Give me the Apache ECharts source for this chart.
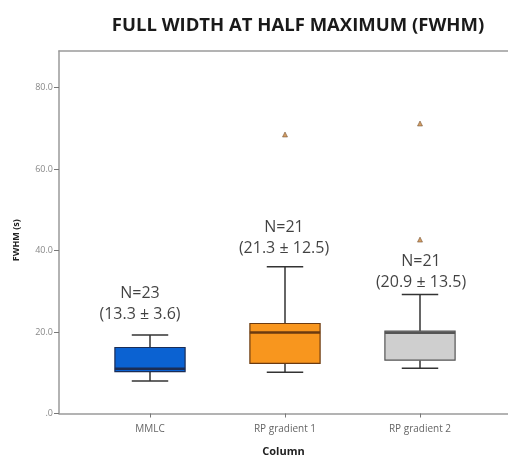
<!DOCTYPE html>
<html>
<head>
<meta charset="utf-8">
<script src="https://cdn.jsdelivr.net/npm/echarts@6/dist/echarts.min.js"></script>
<style>html,body{margin:0;padding:0;background:#fff}#c{width:508px;height:459px}</style>
</head>
<body>
<div id="c"></div>
<script>
// ---- data ----
const categories = ['MMLC', 'RP gradient 1', 'RP gradient 2'];
// [whiskerLow, Q1, median, Q3, whiskerHigh]
const boxMMLC = [8.0, 10.3, 11.0, 16.2, 19.3];
const boxRP1 = [10.1, 12.3, 19.9, 22.1, 36.0];
const boxRP2 = [11.1, 13.1, 19.8, 20.2, 29.2];
const outliersRP1 = [68.5];
const outliersRP2 = [71.2, 42.7];
const counts = [23, 21, 21];
const means = [13.3, 21.3, 20.9];
const sds = [3.6, 12.5, 13.5];
const yTicks = [0, 20, 40, 60, 80];

const boxes = [boxMMLC, boxRP1, boxRP2];
const outliers = [[], outliersRP1, outliersRP2];

// styles
const fills = ['#0b62d2', '#f8961e', '#cfcfcf'];
const edges = ['#1b2d55', '#6b3a10', '#555555'];
const labelShift = [[-10, 2], [-1, 4], [1, 10]];

const boxData = boxes.map((b, i) => [i].concat(b));
const outlierData = [];
outliers.forEach((arr, i) => arr.forEach(v => outlierData.push([i, v])));
const annotData = boxes.map((b, i) => ({
  value: [i, b[4]],
  label: {
    offset: labelShift[i],
    formatter: 'N=' + counts[i] + '\n(' + means[i].toFixed(1) + ' \u00b1 ' + sds[i].toFixed(1) + ')'
  }
}));

const axisGray = '#9a9a9a';
const chart = echarts.init(document.getElementById('c'), null, { renderer: 'canvas' });
chart.setOption({
  animation: false,
  title: {
    text: 'FULL WIDTH AT HALF MAXIMUM (FWHM)',
    left: 293, top: 11, textAlign: 'center',
    textStyle: { fontFamily: 'Open Sans', fontWeight: 'bold', fontSize: 18.5, color: '#1a1a1a' }
  },
  grid: { left: 59, right: 0, top: 51, bottom: 45.5, outerBoundsMode: 'none', containLabel: false },
  xAxis: [{
    type: 'value',
    min: (59 - 150) / 135, max: (508 - 150) / 135,
    splitLine: { show: false },
    axisLine: { show: true, onZero: false, lineStyle: { color: axisGray, width: 1.5 } },
    axisTick: { show: true, customValues: [0, 1, 2], length: 4, lineStyle: { color: '#777' } },
    axisLabel: {
      customValues: [0, 1, 2],
      formatter: v => categories[Math.round(v)] || '',
      color: '#666', fontFamily: 'Open Sans', fontSize: 10, margin: 11
    },
    name: 'Column', nameLocation: 'middle', nameGap: 33,
    nameTextStyle: { fontFamily: 'Open Sans', fontWeight: 'bold', fontSize: 11, color: '#222' }
  }, {
    type: 'value', position: 'top',
    min: (59 - 150) / 135, max: (508 - 150) / 135,
    splitLine: { show: false },
    axisLine: { show: true, onZero: false, lineStyle: { color: axisGray, width: 1.5 } },
    axisTick: { show: false }, axisLabel: { show: false }
  }],
  yAxis: {
    type: 'value', min: 0, max: 89,
    splitLine: { show: false },
    axisLine: { show: true, onZero: false, lineStyle: { color: axisGray, width: 1.5 } },
    axisTick: { show: true, customValues: yTicks, length: 5, lineStyle: { color: '#777' } },
    axisLabel: {
      customValues: yTicks,
      formatter: v => v === 0 ? '.0' : v.toFixed(1),
      color: '#888', fontFamily: 'Open Sans', fontSize: 9, margin: 6
    },
    name: 'FWHM (s)', nameLocation: 'middle', nameGap: 38, nameRotate: 90,
    nameTextStyle: { fontFamily: 'Open Sans', fontWeight: 'bold', fontSize: 9, color: '#222', padding: [0, 16, 0, 0] }
  },
  series: [
    {
      type: 'custom',
      data: boxData,
      renderItem: function (params, api) {
        const i = api.value(0);
        const lo = api.value(1), q1 = api.value(2), med = api.value(3), q3 = api.value(4), hi = api.value(5);
        const unit = api.size([1, 0])[0];
        const bw = unit * 0.52, cw = unit * 0.27;
        const pLo = api.coord([i, lo]), pQ1 = api.coord([i, q1]), pMed = api.coord([i, med]);
        const pQ3 = api.coord([i, q3]), pHi = api.coord([i, hi]);
        const cx = pMed[0];
        const ln = { stroke: '#333', lineWidth: 1.5 };
        return {
          type: 'group',
          children: [
            { type: 'line', shape: { x1: cx, y1: pHi[1], x2: cx, y2: pQ3[1] }, style: ln },
            { type: 'line', shape: { x1: cx, y1: pQ1[1], x2: cx, y2: pLo[1] }, style: ln },
            { type: 'line', shape: { x1: cx - cw / 2, y1: pHi[1], x2: cx + cw / 2, y2: pHi[1] }, style: ln },
            { type: 'line', shape: { x1: cx - cw / 2, y1: pLo[1], x2: cx + cw / 2, y2: pLo[1] }, style: ln },
            { type: 'rect', shape: { x: cx - bw / 2, y: pQ3[1], width: bw, height: pQ1[1] - pQ3[1] },
              style: { fill: fills[i], stroke: edges[i], lineWidth: 1.2 } },
            { type: 'line', shape: { x1: cx - bw / 2, y1: pMed[1], x2: cx + bw / 2, y2: pMed[1] },
              style: { stroke: edges[i], lineWidth: 2.5 } }
          ]
        };
      }
    },
    {
      type: 'scatter',
      data: outlierData,
      symbol: 'triangle', symbolSize: 5,
      itemStyle: { color: '#c8843c', borderColor: '#5a3a20', borderWidth: 0.6 }
    },
    {
      type: 'scatter',
      data: annotData,
      symbolSize: 0,
      silent: true,
      label: {
        show: true, position: 'top', distance: 12,
        fontFamily: 'Open Sans', fontSize: 16, lineHeight: 21, color: '#111', align: 'center'
      }
    }
  ]
});
</script>
</body>
</html>
